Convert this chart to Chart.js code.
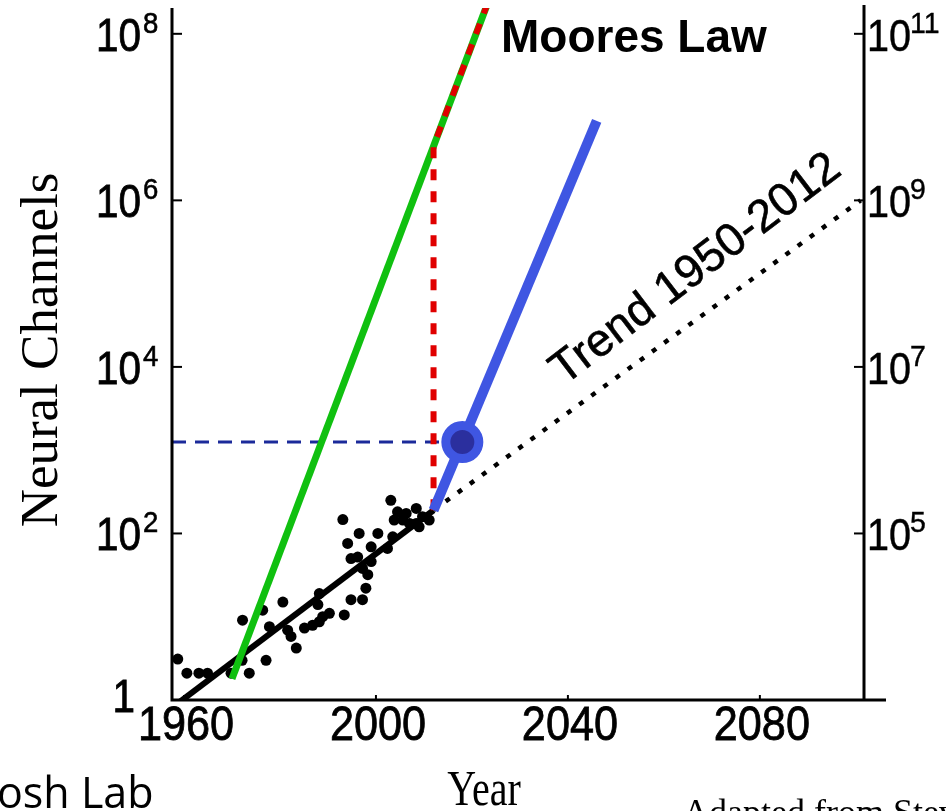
<!DOCTYPE html>
<html>
<head>
<meta charset="utf-8">
<script src="https://cdn.jsdelivr.net/npm/chart.js@4.4.1/dist/chart.umd.min.js"></script>
<style>
  html, body { margin: 0; padding: 0; background: #fff; }
  #wrap { width: 946px; height: 811px; position: relative; }
</style>
</head>
<body>
<div id="wrap"><canvas id="chart"></canvas></div>
<script>
// ── Data ──────────────────────────────────────────────────────
const scatterYears = [
  1958.7, 1960.6, 1963.1, 1964.9, 1969.8, 1973.6, 1972.2, 1972.1, 1977.1, 1976.4,
  1980.6, 1977.8, 1981.6, 1982.3, 1983.4, 1985.1, 1986.8, 1988.2, 1988.9, 1990.3,
  1987.9, 1988.2, 1993.4, 1994.8, 1997.2, 1997.9, 1998.3, 1997.2, 1999.0, 1994.8,
  1996.2, 1994.1, 1996.5, 2000.4, 1999.0, 2002.4, 2003.5, 1993.1, 2003.1, 2003.8,
  2004.5, 2006.3, 2008.4, 2008.4, 2009.7, 2011.1, 2009.0, 2005.6, 2007.0
];
const scatterChannels = [
  3.1, 2.1, 2.1, 2.1, 2.1, 2.1, 9.1, 3.0, 3.0, 12,
  15, 7.6, 6.9, 5.8, 4.2, 7.3, 7.9, 8.7, 10, 11,
  14, 19, 10.5, 16, 16, 22, 32, 38, 46, 50,
  52, 76, 100, 100, 69, 66, 91, 147, 250, 145,
  182, 174, 200, 132, 159, 145, 120, 145, 132
];

const trendYears = [1958, 2012];
const trendChannels = [0.85, 190];
const trendProjYears = [2012, 2101];
const trendProjChannels = [190, 1.0e6];

const mooreYears = [1970, 2024];
const mooreChannels = [1.8, 3e8];
const mooreFromNowYears = [2012, 2012, 2024];
const mooreFromNowChannels = [190, 4.5e6, 3e8];

const fastYears = [2012, 2046];
const fastChannels = [190, 9e6];
const markerYears = [2018];
const markerChannels = [1250];
const refYears = [1957.5, 2018];
const refChannels = [1250, 1250];

const xTicks = [1960, 2000, 2040, 2080];
const leftTickExps = [0, 2, 4, 6, 8];
const rightTickExps = [5, 7, 9, 11];
const rightOffsetExp = 3; // right axis = left axis x 1000

const pts = (xs, ys) => xs.map((x, i) => ({ x, y: ys[i] }));

// ── Axes / text plugin ────────────────────────────────────────
function txt(ctx, s, x, y, font, align, sx, heavy) {
  ctx.save();
  ctx.translate(x, y);
  ctx.scale(sx || 1, 1);
  ctx.font = font;
  ctx.textAlign = align || 'left';
  ctx.textBaseline = 'alphabetic';
  ctx.fillText(s, 0, 0);
  if (heavy) {
    ctx.lineWidth = heavy;
    ctx.strokeText(s, 0, 0);
  }
  ctx.restore();
}

const SANS = "'Liberation Sans', Arial, sans-serif";
const SERIF = "'Liberation Serif', 'Times New Roman', serif";

const axesPlugin = {
  id: 'axesPlugin',
  afterDatasetsDraw(chart) {
    const { ctx, chartArea: a, scales: { x, y } } = chart;
    ctx.save();
    ctx.strokeStyle = '#000';
    ctx.fillStyle = '#000';
    ctx.lineWidth = 3;
    ctx.lineCap = 'butt';

    // axis lines
    ctx.beginPath();
    ctx.moveTo(a.left, a.top); ctx.lineTo(a.left, a.bottom);
    ctx.moveTo(a.right, a.top - 3); ctx.lineTo(a.right, a.bottom);
    ctx.moveTo(a.left - 1.5, a.bottom); ctx.lineTo(a.right + 22, a.bottom);
    ctx.stroke();

    ctx.lineWidth = 2;
    // left ticks + labels
    leftTickExps.forEach(k => {
      const py = y.getPixelForValue(Math.pow(10, k));
      if (k > 0) {
        ctx.beginPath(); ctx.moveTo(a.left, py); ctx.lineTo(a.left + 10, py); ctx.stroke();
        txt(ctx, '10', a.left - 31, py + 17, '46px ' + SANS, 'right', 0.88, 0.8);
        txt(ctx, String(k), a.left - 29, py - 1, '29px ' + SANS, 'left', 0.95, 0.6);
      } else {
        txt(ctx, '1', a.left - 37, py + 12, '46px ' + SANS, 'right', 0.88, 0.8);
      }
    });

    // right ticks + labels
    rightTickExps.forEach(k => {
      const py = y.getPixelForValue(Math.pow(10, k - rightOffsetExp));
      ctx.beginPath(); ctx.moveTo(a.right - 10, py); ctx.lineTo(a.right, py); ctx.stroke();
      txt(ctx, '10', a.right + 3, py + 17, '45px ' + SANS, 'left', 0.88, 0.5);
      txt(ctx, String(k), a.right + 46, py - 1, '30px ' + SANS, 'left', 0.95, 0.4);
    });

    // x ticks + labels
    xTicks.forEach(v => {
      const px = x.getPixelForValue(v);
      ctx.beginPath(); ctx.moveTo(px, a.bottom); ctx.lineTo(px, a.bottom - 5); ctx.stroke();
      txt(ctx, String(v), px + 2, a.bottom + 40, '48px ' + SANS, 'center', 0.9, 0.8);
    });

    // annotations
    txt(ctx, 'Moores Law', 501, 52, 'bold 46px ' + SANS, 'left', 1);

    ctx.save();
    ctx.translate(564, 386);
    ctx.rotate(-37.3 * Math.PI / 180);
    txt(ctx, 'Trend 1950-2012', 0, 0, '46px ' + SANS, 'left', 1, 0.6);
    ctx.restore();

    // axis titles
    ctx.save();
    ctx.translate(57, 350);
    ctx.rotate(-Math.PI / 2);
    txt(ctx, 'Neural Channels', 0, 0, '53px ' + SERIF, 'center', 1);
    ctx.restore();
    txt(ctx, 'Year', 484, 805, '50px ' + SERIF, 'center', 0.8);

    // footer
    txt(ctx, 'osh Lab', -3, 808, "43px 'Open Sans', sans-serif", 'left', 1);
    txt(ctx, 'Adapted from Stevenson and Kording', 683, 824, '36px ' + SERIF, 'left', 1);

    ctx.restore();
  }
};

// ── Chart ─────────────────────────────────────────────────────
const line = (data, color, width, dash) => ({
  data, showLine: true, borderColor: color, borderWidth: width,
  borderDash: dash || [], pointRadius: 0, fill: false, tension: 0,
  borderCapStyle: 'butt'
});

new Chart(document.getElementById('chart').getContext('2d'), {
  type: 'scatter',
  data: {
    datasets: [
      {
        data: pts(markerYears, markerChannels),
        pointRadius: 16.5, borderWidth: 9,
        backgroundColor: '#2b2f9e', borderColor: '#3f56e2'
      },
      line(pts(fastYears, fastChannels), '#3f56e2', 10),
      line(pts(mooreFromNowYears, mooreFromNowChannels), '#e00000', 6, [11, 11]),
      line(pts(mooreYears, mooreChannels), '#10c010', 7),
      line(pts(refYears, refChannels), '#1b2a9a', 3, [14, 9]),
      {
        data: pts(scatterYears, scatterChannels),
        pointRadius: 5.5, borderWidth: 0, backgroundColor: '#000'
      },
      line(pts(trendYears, trendChannels), '#000', 6),
      line(pts(trendProjYears, trendProjChannels), '#000', 4.5, [5, 10]),
    ]
  },
  options: {
    responsive: true,
    maintainAspectRatio: false,
    animation: false,
    layout: { autoPadding: false, padding: { left: 172, right: 82, top: 8, bottom: 111 } },
    plugins: { legend: { display: false }, tooltip: { enabled: false } },
    scales: {
      x: { type: 'linear', min: 1957.5, max: 2101.7, display: false },
      y: { type: 'logarithmic', min: 1, max: Math.pow(10, 8.31), display: false }
    }
  },
  plugins: [axesPlugin]
});
</script>
</body>
</html>
